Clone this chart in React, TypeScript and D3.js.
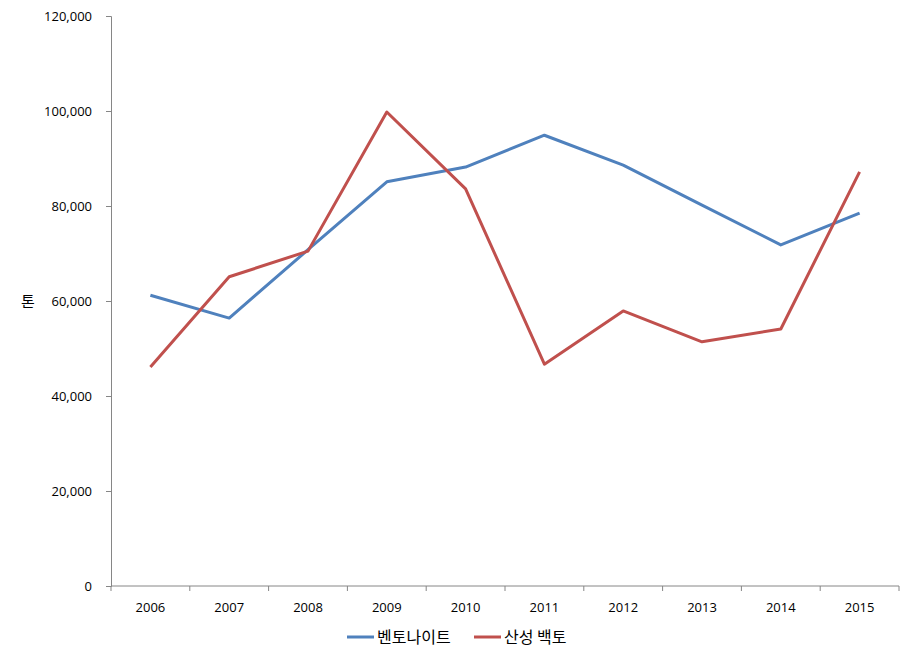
import React, { useEffect, useRef } from "react";
import * as d3 from "d3";

const years = ["2006", "2007", "2008", "2009", "2010", "2011", "2012", "2013", "2014", "2015"];
const bentonite = [61200, 56400, 70800, 85100, 88200, 94900, 88600, 80200, 71800, 78500];
const acidClay = [46100, 65100, 70500, 99800, 83600, 46700, 57900, 51400, 54100, 87200];
const yTicks = [0, 20000, 40000, 60000, 80000, 100000, 120000];

const seriesNames = ["벤토나이트", "산성 백토"];
const seriesColors = ["#4F81BD", "#C0504D"];

const App = () => {
  const ref = useRef<SVGSVGElement | null>(null);

  useEffect(() => {
    const width = 914;
    const height = 660;
    const margin = { top: 16, right: 15, bottom: 74, left: 111 };
    const font = "'Open Sans', 'Noto Sans CJK KR', sans-serif";
    const krFont = "'Noto Sans CJK KR', sans-serif";

    const svg = d3.select(ref.current);
    svg.selectAll("*").remove();

    const x = d3
      .scaleBand()
      .domain(years)
      .range([margin.left, width - margin.right]);

    const y = d3
      .scaleLinear()
      .domain([0, 120000])
      .range([height - margin.bottom, margin.top]);

    // y axis
    const yAxis = svg
      .append("g")
      .attr("transform", `translate(${margin.left},0)`)
      .call(
        d3
          .axisLeft(y)
          .tickValues(yTicks)
          .tickSize(5)
          .tickPadding(14)
          .tickFormat((d) => d3.format(",")(d as number))
      );
    yAxis.select(".domain").attr("stroke", "#868686");
    yAxis.selectAll(".tick line").attr("stroke", "#868686");
    yAxis
      .selectAll("text")
      .attr("font-family", font)
      .attr("font-size", 13)
      .attr("fill", "#000");

    // x axis: ticks at category boundaries
    const xg = svg.append("g").attr("transform", `translate(0,${height - margin.bottom})`);
    xg.append("line")
      .attr("x1", margin.left)
      .attr("x2", width - margin.right)
      .attr("stroke", "#868686");
    const bounds = years.map((d) => x(d) as number).concat([x.range()[1]]);
    xg.selectAll(".bt")
      .data(bounds)
      .join("line")
      .attr("x1", (d) => d)
      .attr("x2", (d) => d)
      .attr("y1", 0)
      .attr("y2", 5)
      .attr("stroke", "#868686");
    xg.selectAll(".lbl")
      .data(years)
      .join("text")
      .attr("x", (d) => (x(d) as number) + x.bandwidth() / 2)
      .attr("y", 26)
      .attr("text-anchor", "middle")
      .attr("font-family", font)
      .attr("font-size", 13)
      .text((d) => d);

    // y title
    svg
      .append("text")
      .attr("x", 28)
      .attr("y", y(60000) + 6)
      .attr("text-anchor", "middle")
      .attr("font-family", krFont)
      .attr("font-size", 15)
      .text("톤");

    // lines
    const line = d3
      .line<number>()
      .x((_, i) => (x(years[i]) as number) + x.bandwidth() / 2)
      .y((d) => y(d));

    [bentonite, acidClay].forEach((s, i) => {
      svg
        .append("path")
        .datum(s)
        .attr("fill", "none")
        .attr("stroke", seriesColors[i])
        .attr("stroke-width", 3)
        .attr("stroke-linejoin", "round")
        .attr("d", line);
    });

    // legend
    const legendX = [347, 474];
    seriesNames.forEach((name, i) => {
      const g = svg.append("g").attr("transform", `translate(${legendX[i]},637)`);
      g.append("line")
        .attr("x1", 0)
        .attr("x2", 27)
        .attr("stroke", seriesColors[i])
        .attr("stroke-width", 3);
      g.append("text")
        .attr("x", 30)
        .attr("y", 6)
        .attr("font-family", krFont)
        .attr("font-size", 16)
        .text(name);
    });
  }, []);

  return <svg ref={ref} width={914} height={660} style={{ position: "absolute", left: 0, top: 0 }} />;
};

export default App;
